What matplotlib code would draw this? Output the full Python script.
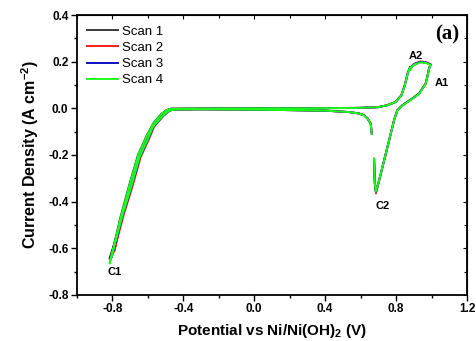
import matplotlib
matplotlib.use("Agg")
import matplotlib.pyplot as plt
from matplotlib.ticker import MultipleLocator

plt.rcParams['font.family'] = ['Liberation Sans', 'DejaVu Sans']
plt.rcParams['mathtext.fontset'] = 'custom'
plt.rcParams['mathtext.rm'] = 'Liberation Sans'
plt.rcParams['mathtext.bf'] = 'Liberation Sans:bold'

# Cyclic voltammograms, potential (V) and current density (A cm-2)
scan1_E = [0.663, 0.657, 0.640, 0.620, 0.590, 0.535, 0.400, 0.140, -0.100, -0.300, -0.440, -0.470,
           -0.490, -0.520, -0.573, -0.600, -0.648, -0.700, -0.742, -0.780, -0.815,
           -0.795, -0.755, -0.705, -0.655, -0.605, -0.565, -0.525, -0.495, -0.472, -0.300, 0.000,
           0.300, 0.600, 0.700, 0.750, 0.798, 0.830, 0.850, 0.866, 0.880, 0.873, 0.895, 0.911,
           0.939, 0.970, 0.995, 0.986, 0.975, 0.967, 0.930, 0.892, 0.836, 0.807, 0.789, 0.742,
           0.704, 0.686, 0.680, 0.676]
scan1_j = [-0.110, -0.066, -0.045, -0.030, -0.022, -0.016, -0.010, -0.007, -0.005, -0.004, -0.005, -0.008,
           -0.015, -0.035, -0.080, -0.130, -0.209, -0.350, -0.452, -0.560, -0.645,
           -0.600, -0.470, -0.330, -0.200, -0.115, -0.060, -0.025, -0.008, -0.002, -0.001, 0.000,
           0.000, 0.002, 0.005, 0.013, 0.027, 0.055, 0.100, 0.150, 0.176, 0.160, 0.184, 0.190,
           0.198, 0.195, 0.187, 0.170, 0.130, 0.106, 0.063, 0.042, 0.013, -0.009, -0.050, -0.194,
           -0.309, -0.355, -0.320, -0.216]

scan2_E = [0.664, 0.658, 0.641, 0.621, 0.591, 0.536, 0.400, 0.140, -0.100, -0.300, -0.440, -0.468,
           -0.486, -0.514, -0.565, -0.592, -0.640, -0.692, -0.734, -0.772, -0.790,
           -0.785, -0.747, -0.697, -0.647, -0.597, -0.557, -0.519, -0.490, -0.470, -0.300, 0.000,
           0.300, 0.600, 0.700, 0.750, 0.798, 0.830, 0.850, 0.866, 0.880, 0.873, 0.895, 0.911,
           0.939, 0.970, 0.995, 0.986, 0.975, 0.967, 0.930, 0.892, 0.836, 0.807, 0.789, 0.742,
           0.704, 0.687, 0.681, 0.677]
scan2_j = [-0.108, -0.065, -0.044, -0.030, -0.022, -0.016, -0.010, -0.007, -0.005, -0.004, -0.005, -0.008,
           -0.015, -0.035, -0.080, -0.130, -0.209, -0.350, -0.452, -0.560, -0.615,
           -0.600, -0.470, -0.330, -0.200, -0.115, -0.060, -0.025, -0.008, -0.002, -0.001, 0.000,
           0.000, 0.002, 0.005, 0.014, 0.028, 0.057, 0.102, 0.152, 0.178, 0.162, 0.187, 0.194,
           0.201, 0.197, 0.189, 0.171, 0.131, 0.107, 0.064, 0.042, 0.013, -0.009, -0.051, -0.197,
           -0.313, -0.365, -0.325, -0.220]

scan3_E = [0.663, 0.657, 0.640, 0.620, 0.590, 0.535, 0.400, 0.140, -0.100, -0.300, -0.440, -0.469,
           -0.488, -0.517, -0.569, -0.596, -0.644, -0.696, -0.738, -0.776, -0.805,
           -0.790, -0.751, -0.701, -0.651, -0.601, -0.561, -0.522, -0.492, -0.471, -0.300, 0.000,
           0.300, 0.600, 0.700, 0.750, 0.798, 0.830, 0.850, 0.866, 0.880, 0.873, 0.895, 0.911,
           0.939, 0.970, 0.995, 0.986, 0.975, 0.967, 0.930, 0.892, 0.836, 0.807, 0.789, 0.742,
           0.704, 0.686, 0.680, 0.676]
scan3_j = [-0.109, -0.066, -0.045, -0.030, -0.022, -0.016, -0.010, -0.007, -0.005, -0.004, -0.005, -0.008,
           -0.015, -0.035, -0.080, -0.130, -0.209, -0.350, -0.452, -0.560, -0.640,
           -0.600, -0.470, -0.330, -0.200, -0.115, -0.060, -0.025, -0.008, -0.002, -0.001, 0.000,
           0.000, 0.002, 0.005, 0.013, 0.027, 0.056, 0.101, 0.151, 0.177, 0.161, 0.185, 0.192,
           0.199, 0.196, 0.188, 0.170, 0.130, 0.106, 0.063, 0.042, 0.013, -0.009, -0.050, -0.195,
           -0.311, -0.360, -0.322, -0.218]

scan4_E = [0.663, 0.657, 0.640, 0.620, 0.590, 0.535, 0.400, 0.140, -0.100, -0.300, -0.440, -0.470,
           -0.489, -0.518, -0.571, -0.598, -0.646, -0.698, -0.740, -0.778, -0.815,
           -0.793, -0.753, -0.703, -0.653, -0.603, -0.563, -0.523, -0.493, -0.471, -0.300, 0.000,
           0.300, 0.600, 0.700, 0.750, 0.798, 0.830, 0.850, 0.866, 0.880, 0.873, 0.895, 0.911,
           0.939, 0.970, 0.995, 0.986, 0.975, 0.967, 0.930, 0.892, 0.836, 0.807, 0.789, 0.742,
           0.704, 0.686, 0.680, 0.676]
scan4_j = [-0.110, -0.066, -0.045, -0.030, -0.022, -0.016, -0.010, -0.007, -0.005, -0.004, -0.005, -0.008,
           -0.015, -0.035, -0.080, -0.130, -0.209, -0.350, -0.452, -0.560, -0.665,
           -0.600, -0.470, -0.330, -0.200, -0.115, -0.060, -0.025, -0.008, -0.002, -0.001, 0.000,
           0.000, 0.002, 0.005, 0.013, 0.027, 0.055, 0.100, 0.150, 0.176, 0.160, 0.184, 0.190,
           0.197, 0.194, 0.186, 0.169, 0.129, 0.105, 0.062, 0.041, 0.012, -0.010, -0.051, -0.195,
           -0.310, -0.358, -0.320, -0.216]

labels = ['Scan 1', 'Scan 2', 'Scan 3', 'Scan 4']
colors = ['#3a3a3a', '#ff1a1a', '#1010c8', '#1aff1a']

peak_names = ['A2', 'A1', 'C2', 'C1']
peak_pos = [(0.913, 0.223), (1.06, 0.107), (0.727, -0.418), (-0.789, -0.700)]

fig = plt.figure(figsize=(4.77, 3.41), dpi=100)
ax = fig.add_axes([0.161, 0.135, 0.818, 0.821])

series = [(scan1_E, scan1_j), (scan2_E, scan2_j), (scan3_E, scan3_j), (scan4_E, scan4_j)]
for (E, j), lab, c in zip(series, labels, colors):
    ax.plot(E, j, color=c, lw=1.4, label=lab)

ax.set_xlim(-1.0, 1.2)
ax.set_ylim(-0.8, 0.4)
ax.xaxis.set_minor_locator(MultipleLocator(0.2))
ax.yaxis.set_minor_locator(MultipleLocator(0.1))
ax.set_xticks([-0.8, -0.4, 0.0, 0.4, 0.8, 1.2])
ax.set_xticklabels(['-0.8', '-0.4', '0.0', '0.4', '0.8', '1.2'])
ax.set_yticks([-0.8, -0.6, -0.4, -0.2, 0.0, 0.2, 0.4])
ax.set_yticklabels(['-0.8', '-0.6', '-0.4', '-0.2', '0.0', '0.2', '0.4'])

ax.tick_params(which='both', direction='out', width=1.0, labelsize=8.5, pad=2)
ax.tick_params(which='major', length=4)
ax.tick_params(which='minor', length=2.5)
for lab in ax.get_xticklabels() + ax.get_yticklabels():
    lab.set_fontweight('bold')
for s in ax.spines.values():
    s.set_linewidth(1.3)

# inward ticks on the top and right frame
sec_x = ax.secondary_xaxis('top')
sec_x.set_xticks([-0.8, -0.4, 0.0, 0.4, 0.8, 1.2])
sec_x.xaxis.set_minor_locator(MultipleLocator(0.2))
sec_x.tick_params(which='both', direction='in', labeltop=False, width=0.8)
sec_x.tick_params(which='major', length=3)
sec_x.tick_params(which='minor', length=2)
sec_y = ax.secondary_yaxis('right')
sec_y.set_yticks([-0.8, -0.6, -0.4, -0.2, 0.0, 0.2, 0.4])
sec_y.yaxis.set_minor_locator(MultipleLocator(0.1))
sec_y.tick_params(which='both', direction='in', labelright=False, width=0.8)
sec_y.tick_params(which='major', length=3)
sec_y.tick_params(which='minor', length=2)

ax.set_xlabel('Potential vs Ni/Ni(OH)$_\\mathbf{2}$ (V)', fontsize=11, fontweight='bold', labelpad=5)
ax.set_ylabel('Current Density (A cm$^{\\mathbf{-2}}$)', fontsize=11.5, fontweight='bold', labelpad=5)

ax.legend(loc='upper left', bbox_to_anchor=(0.0, 1.0), frameon=False, fontsize=9.5,
          handlelength=2.3, handletextpad=0.3, labelspacing=0.3, borderaxespad=0.4)

for name, (x, y) in zip(peak_names, peak_pos):
    ax.text(x, y, name, fontsize=8, fontweight='bold', ha='center', va='center')

ax.text(0.95, 0.93, '(a)', transform=ax.transAxes, fontsize=15, fontweight='bold',
        family='Liberation Serif', ha='center', va='center')

fig.savefig('out.png', dpi=100)
